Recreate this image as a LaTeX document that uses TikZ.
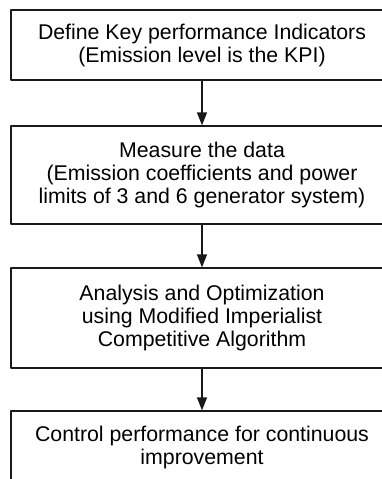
\documentclass[tikz,border=0pt]{standalone}
\usepackage{fontspec}
\setmainfont{Liberation Sans}
\usetikzlibrary{arrows.meta}
\tikzset{
  stepbox/.style={draw=black!90, line width=1.3pt, rectangle, align=center, inner sep=0pt, minimum width=382pt},
}
\begin{document}
\begin{tikzpicture}[x=1pt, y=-1pt, >={Triangle[width=10pt,length=13pt]}, line join=round,
    font=\fontsize{21.3}{23}\selectfont]
  \def\xc{202} % centre of the boxes
  \useasboundingbox (0,0) rectangle (382,479);
  \clip (0,0) rectangle (382,479);
  \node[stepbox, minimum height=70pt] (kpi) at (\xc,45) {Define Key performance Indicators\\(Emission level is the KPI)};
  \node[stepbox, minimum height=98pt] (data) at (\xc,175) {Measure the data\\(Emission coefficients and power\\limits of 3 and 6 generator system)};
  \node[stepbox, minimum height=100pt] (ica) at (\xc,318) {Analysis and Optimization\\using Modified Imperialist\\Competitive Algorithm};
  \node[stepbox, minimum height=72pt] (ctrl) at (\xc,447) {Control performance for continuous\\improvement};
  \draw[->, line width=1.3pt, black!90] (kpi) -- (data);
  \draw[->, line width=1.3pt, black!90] (data) -- (ica);
  \draw[->, line width=1.3pt, black!90] (ica) -- (ctrl);
\end{tikzpicture}
\end{document}
